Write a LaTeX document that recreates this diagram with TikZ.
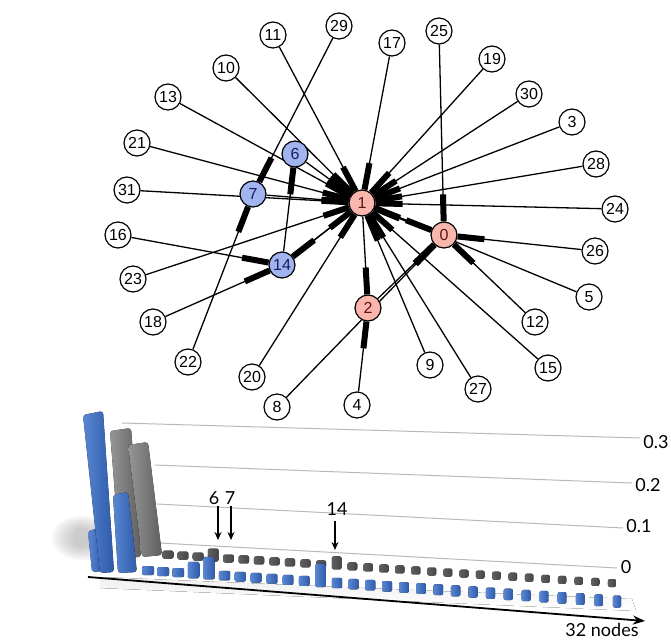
\documentclass[tikz,border=0pt]{standalone}
\usepackage{fontspec}
\setmainfont{Liberation Sans}
\newfontfamily\chartfont{Lato}
\usetikzlibrary{arrows.meta,backgrounds}
\definecolor{hubred}{RGB}{248,182,172}
\definecolor{hubtext}{RGB}{95,20,20}
\definecolor{midblue}{RGB}{162,180,240}
\definecolor{midtext}{RGB}{20,30,95}
\definecolor{barblue}{RGB}{45,90,170}
\definecolor{barbluelight}{RGB}{90,135,210}
\definecolor{bargray}{RGB}{95,95,95}
\definecolor{bargraylight}{RGB}{150,150,150}
\definecolor{bargraydark}{RGB}{70,70,70}

\tikzset{
  leaf/.style={circle, draw, line width=1.2pt, fill=white, minimum size=26pt, inner sep=0pt, font=\fontsize{16}{16}\selectfont},
  hub/.style={leaf, fill=hubred, text=hubtext},
  midnode/.style={leaf, fill=midblue, text=midtext},
  link/.style={line width=1.3pt, -{Rectangle[length=27pt,width=6pt]}},
  grid line/.style={gray!55, line width=1pt},
  tick label/.style={font=\chartfont\fontsize{18}{18}\selectfont, inner sep=1pt},
  pointer/.style={line width=1.3pt, -{Stealth[length=8pt,width=7pt]}},
  blue bar/.style={rounded corners=3pt, left color=barbluelight, right color=barblue},
  gray bar/.style={rounded corners=3pt, left color=bargraylight, right color=bargray},
}

\begin{document}
\begin{tikzpicture}[x=1pt,y=-1pt]
    \useasboundingbox (0,0) rectangle (671,642);

    % Hubs
    \node[hub] (n1) at (362,203) {1};
    \node[hub] (n0) at (444,235) {0};
    \node[hub] (n2) at (368,308) {2};
    \node[midnode] (n6) at (295,154) {6};
    \node[midnode] (n7) at (253,194) {7};
    \node[midnode] (n14) at (282,265) {14};

    % Outer nodes
    \foreach \n/\x/\y in {11/273/35, 29/339/26, 17/392/43, 25/439/31, 19/492/59, 10/226/68, 30/529/94, 13/168/97, 3/572/122, 21/137/143, 28/596/164, 31/127/190, 24/615/209, 16/118/235, 26/595/251, 23/133/279, 5/589/297, 18/153/322, 12/535/322, 22/188/362, 9/430/365, 15/548/368, 20/252/377, 27/478/389, 8/277/407, 4/357/405} {
        \node[leaf] (n\n) at (\x,\y) {\n};
    }

    % Edges (arrow end at the target)
    \begin{scope}[on background layer]
        \foreach \s/\t in {11/1, 10/1, 13/1, 21/1, 6/1, 31/1, 7/1, 23/1, 14/1, 20/1, 9/1, 27/1, 15/1, 5/1, 24/1, 28/1, 3/1, 30/1, 19/1, 17/1, 0/1, 29/7, 22/7, 14/6, 16/14, 18/14, 1/14, 1/2, 4/2, 8/0, 2/0, 25/0, 26/0, 12/0, 1/0} {
            \draw[link] (n\s) -- (n\t);
        }
    \end{scope}

    % Chart: soft shadows
    \foreach \r in {1,...,7} {
        \fill[gray, opacity=0.07] (82,538) ellipse ({34-3.5*\r} and {24-2*\r});
    }
    \fill[top color=gray!12, bottom color=white] (100,577) -- (632,599) -- (636,611) -- (100,588) -- cycle;

    % Grid lines
    \draw[grid line] (122,423) -- (640,438);
    \draw[grid line] (155,465) -- (632,483);
    \draw[grid line] (157,504) -- (623,528);
    \draw[grid line] (160,543) -- (617,568);

    % Tall columns
    \fill[gray bar] (110,431) -- (131,428) -- (141,557) -- (120,558) -- cycle;
    \fill[gray bar] (128,445) -- (148,442) -- (162,555) -- (142,557) -- cycle;
    \fill[blue bar] (88,531) -- (100,528) -- (104,571) -- (92,572) -- cycle;
    \fill[blue bar] (83,415) -- (103,411) -- (114,572) -- (100,573) -- cycle;
    \fill[blue bar] (113,495) -- (128,492) -- (137,572) -- (118,573) -- cycle;

    % Gray row
    \foreach \i in {3,...,31} {
        \pgfmathsetmacro\bx{168+15*(\i-3)+0.0306*(\i-3)^2}
        \pgfmathsetmacro\by{568+0.064*(\bx-377)}
        \pgfmathsetmacro\bh{8+(\i==6)*5+(\i==14)*5}
        \pgfmathsetmacro\bw{5.5-1.5*(\i-3)/28}
        \fill[rounded corners=2pt, left color=bargray, right color=bargraydark] (\bx-\bw,\by+4) rectangle (\bx+\bw,\by+4-\bh);
    }

    % Blue row
    \foreach \i in {3,...,31} {
        \pgfmathsetmacro\bx{148+15*(\i-3)+0.0625*(\i-3)^2}
        \pgfmathsetmacro\by{587+0.069*(\bx-385)}
        \pgfmathsetmacro\bh{9+3*(\i-3)/28+(\i==6)*7+(\i==7)*13+(\i==14)*13}
        \pgfmathsetmacro\bw{6-1.8*(\i-3)/28}
        \fill[blue bar, rounded corners=2pt] (\bx-\bw,\by+4.5) rectangle (\bx+\bw,\by+4.5-\bh);
    }

    % Axis
    \coordinate (ax0) at (88,577);
    \coordinate (ax1) at (645,621);
    \draw[line width=1.8pt, -{Stealth[length=12pt,width=9pt]}] (ax0) -- (ax1);
    \node[tick label] (axlab) at (602,630) {32 nodes};

    % Tick labels
    \node[tick label] (t3) at (656,442) {0.3};
    \node[tick label] (t2) at (648,485) {0.2};
    \node[tick label] (t1) at (639,526) {0.1};
    \node[tick label] (t0) at (626,567) {0};

    % Pointers to nodes 6, 7 and 14
    \node[tick label] (p6) at (214,498) {6};
    \node[tick label] (p7) at (230,498) {7};
    \node[tick label] (p14) at (337,509) {14};
    \coordinate (q6) at (218,540);
    \coordinate (q7) at (231,540);
    \coordinate (q14) at (335,550);
    \draw[pointer] (p6.south -| q6) -- (q6);
    \draw[pointer] (p7.south -| q7) -- (q7);
    \draw[pointer] ([yshift=-4pt]p14.south -| q14) -- (q14);
\end{tikzpicture}
\end{document}
